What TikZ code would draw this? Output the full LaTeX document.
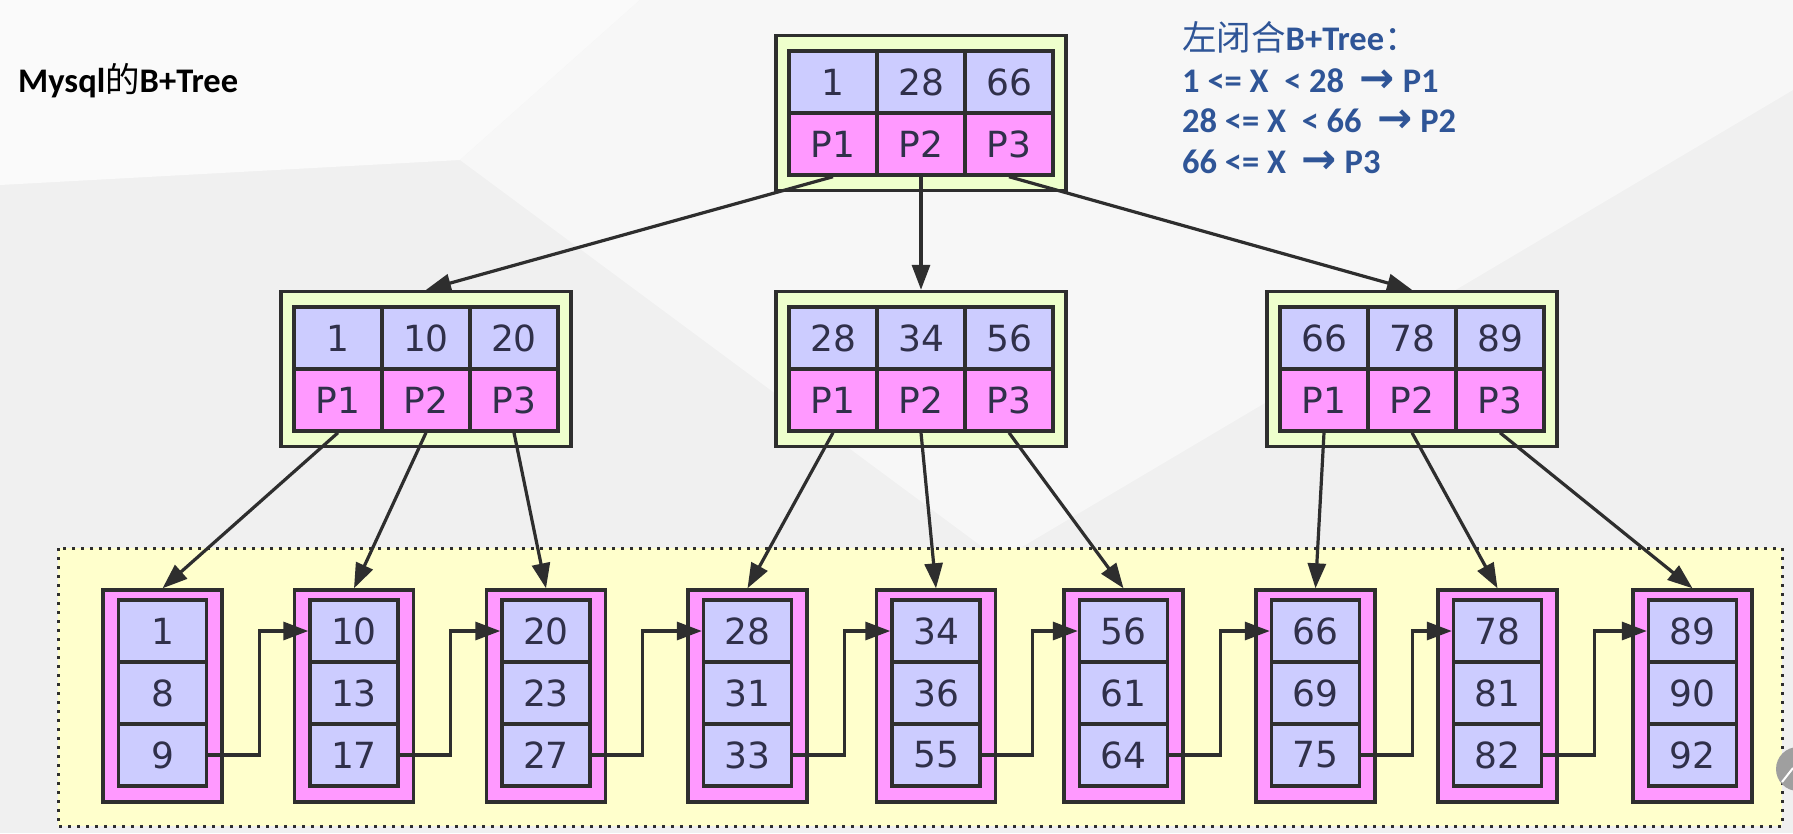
\documentclass[tikz,border=0pt]{standalone}
\usepackage{fontspec}
\usepackage{xcolor}
\usetikzlibrary{arrows.meta}
\setmainfont{DejaVu Sans}
\newfontfamily\slidefont{Carlito}
\newfontfamily\cjkfont{Noto Sans CJK SC}

\definecolor{keyfill}{HTML}{CCCCFF}
\definecolor{ptrfill}{HTML}{FF99FF}
\definecolor{boxfill}{HTML}{EEFFCC}
\definecolor{clusterfill}{HTML}{FFFFCC}
\definecolor{linecol}{HTML}{2E2E2E}
\definecolor{textcol}{HTML}{30304A}
\definecolor{noteblue}{HTML}{2F5597}
\definecolor{bgcol}{HTML}{F0F0F0}

\begin{document}
\begin{tikzpicture}[x=1pt, y=-1pt,
  cell/.style={draw=linecol, line width=3.4pt, minimum width=88pt, minimum height=62pt,
    inner sep=0pt, text=textcol, font=\fontsize{36}{40}\selectfont},
  keycell/.style={cell, fill=keyfill},
  ptrcell/.style={cell, fill=ptrfill},
  innerbox/.style={draw=linecol, line width=3.4pt, fill=boxfill, minimum width=290pt, minimum height=155pt},
  leafbox/.style={draw=linecol, line width=3.4pt, fill=ptrfill, minimum width=119pt, minimum height=212pt},
  edge/.style={draw=linecol, line width=3.2pt, -{Triangle[length=25pt, width=18pt]}},
  link/.style={edge},
  slide/.style={inner sep=0pt, anchor=base west, font=\slidefont\bfseries\fontsize{34.5}{40}\selectfont},
  note/.style={slide, text=noteblue}]

  % Background
  \useasboundingbox (0,0) rectangle (1793,833);
  \fill[bgcol] (0,0) rectangle (1793,833);
  \fill[white!70!bgcol] (0,0) -- (640,0) -- (460,160) -- (0,185) -- cycle;
  \fill[white!45!bgcol] (640,0) -- (1793,0) -- (1793,90) -- (1000,560) -- (460,160) -- cycle;

  % Titles
  \node[slide] (title) at (18,92) {Mysql{\cjkfont\mdseries 的}B+Tree};
  \node[note] (rule0) at (1182,50) {{\cjkfont\mdseries 左闭合}B+Tree{\cjkfont\mdseries ：}};
  \node[note] (rule1) at (1182,92) {1 <= X\ \ < 28\ \ {\rmfamily\fontsize{42}{40}\selectfont →} P1};
  \node[note] (rule2) at (1182,132) {28 <= X\ \ < 66\ \ {\rmfamily\fontsize{42}{40}\selectfont →} P2};
  \node[note] (rule3) at (1182,173) {66 <= X\ \ {\rmfamily\fontsize{42}{40}\selectfont →} P3};

  % Leaf level
  \draw[linecol, line width=3pt, fill=clusterfill, dash pattern=on 3pt off 6pt] (58,548) rectangle (1782,826);

  % Root and inner nodes
  \foreach \n/\cx/\cy/\ka/\kb/\kc in {root/921/113/1/28/66, a/426/369/1/10/20, b/921/369/28/34/56, c/1412/369/66/78/89}{
    \node[innerbox] (\n) at (\cx,\cy) {};
    \node[keycell] (\n-k1) at (\cx-88,\cy-31) {\ka};
    \node[keycell] (\n-k2) at (\cx,\cy-31) {\kb};
    \node[keycell] (\n-k3) at (\cx+88,\cy-31) {\kc};
    \node[ptrcell] (\n-p1) at (\cx-88,\cy+31) {P1};
    \node[ptrcell] (\n-p2) at (\cx,\cy+31) {P2};
    \node[ptrcell] (\n-p3) at (\cx+88,\cy+31) {P3};
  }

  % Leaves
  \foreach \n/\cx/\ka/\kb/\kc in {l1/162.5/1/8/9, l2/354/10/13/17, l3/546/20/23/27,
      l4/747.5/28/31/33, l5/936/34/36/55, l6/1123.5/56/61/64,
      l7/1315.5/66/69/75, l8/1497.5/78/81/82, l9/1692.5/89/90/92}{
    \node[leafbox] (\n) at (\cx,696) {};
    \node[keycell] (\n-a) at (\cx,631) {\ka};
    \node[keycell] (\n-b) at (\cx,693) {\kb};
    \node[keycell] (\n-c) at (\cx,755) {\kc};
  }

  % Pointers
  \foreach \s/\t in {root-p1/a, root-p2/b, root-p3/c,
      a-p1/l1, a-p2/l2, a-p3/l3, b-p1/l4, b-p2/l5, b-p3/l6, c-p1/l7, c-p2/l8, c-p3/l9}
    \draw[edge] (\s.south) -- (\t.north);

  % Linked list
  \foreach \s/\t in {l1/l2, l2/l3, l3/l4, l4/l5, l5/l6, l6/l7, l7/l8, l8/l9}
    \draw[link] (\s-c.east) -- ++(51,0) |- (\t-a.west);

  % Pen button at the edge
  \fill[gray!75] (1798,769) circle (22);
  \draw[white, line width=2pt] (1782,782) -- (1793,768);
\end{tikzpicture}
\end{document}
